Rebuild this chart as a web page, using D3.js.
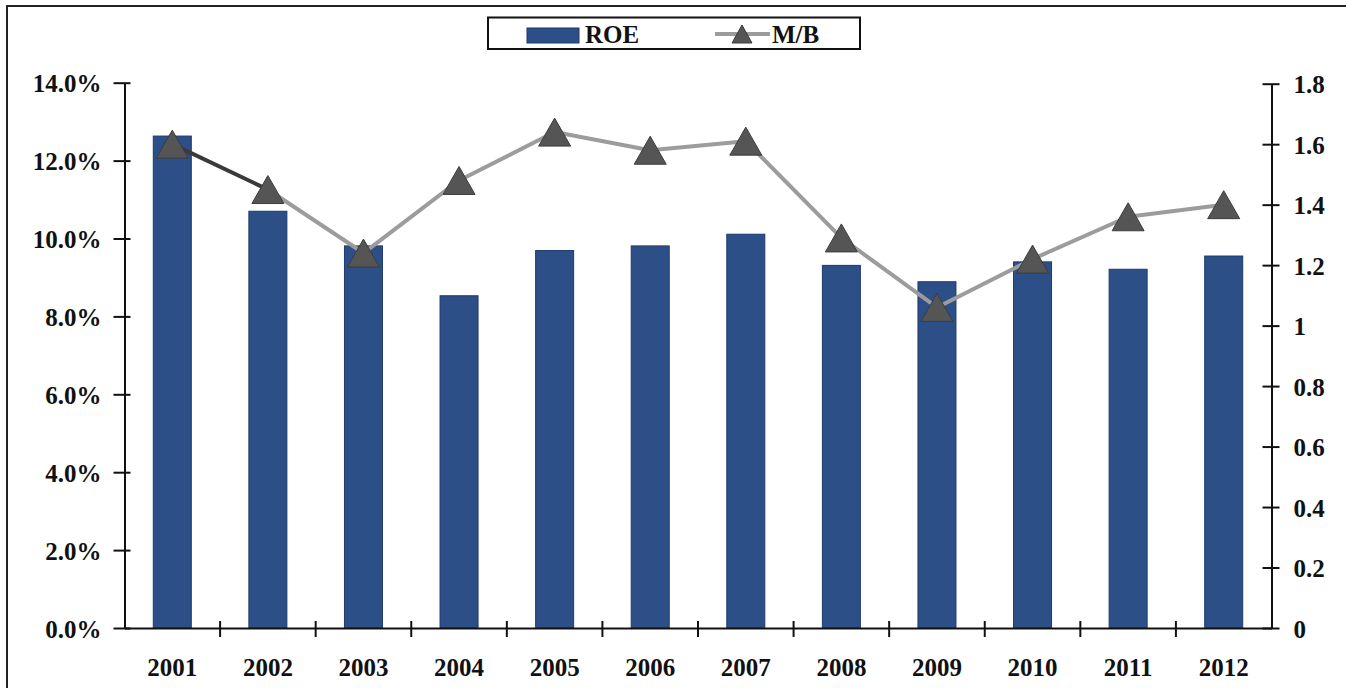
<!DOCTYPE html>
<html>
<head>
<meta charset="utf-8">
<script src="https://cdn.jsdelivr.net/npm/d3@7"></script>
<style>
  html, body { margin: 0; padding: 0; background: #fff; }
  svg { display: block; }
</style>
</head>
<body>
<script>
const years = ["2001","2002","2003","2004","2005","2006","2007","2008","2009","2010","2011","2012"];
const roe = [12.63, 10.70, 9.81, 8.53, 9.69, 9.81, 10.11, 9.31, 8.89, 9.40, 9.21, 9.55];
const mb = [1.60, 1.45, 1.24, 1.48, 1.64, 1.58, 1.61, 1.29, 1.06, 1.22, 1.36, 1.40];
const leftTicks = [0, 2, 4, 6, 8, 10, 12, 14];
const rightTicks = [0, 0.2, 0.4, 0.6, 0.8, 1, 1.2, 1.4, 1.6, 1.8];
const seriesNames = ["ROE", "M/B"];

const W = 1346, H = 688;
const FONT = "'Liberation Serif', 'Times New Roman', 'DejaVu Serif', serif";
const plot = { left: 124.5, right: 1271.5, top: 82.7, bottom: 628 };
const barColor = "#2d4f87", barEdge = "#1e3a6c";
const lineGray = "#9c9c9c", lineDark = "#3a3a3a", markerFill = "#555555", markerEdge = "#3c3c3c";

const svg = d3.select("body").append("svg").attr("width", W).attr("height", H);

// outer frame
svg.append("rect").attr("x", 7).attr("y", 6).attr("width", W + 20).attr("height", H + 20)
  .attr("fill", "none").attr("stroke", "#222").attr("stroke-width", 2);

const xb = d3.scaleBand().domain(years).range([plot.left, plot.right]);
const yL = d3.scaleLinear().domain([0, 14]).range([plot.bottom, plot.top]);
const yR = d3.scaleLinear().domain([0, 1.8]).range([plot.bottom, plot.top + 1]);

function styleText(sel) {
  sel.style("font-family", FONT).style("font-weight", "bold").style("font-size", "25px").attr("fill", "#111");
}

// bars
svg.append("g").selectAll("rect").data(years).join("rect")
  .attr("x", (d) => xb(d) + xb.bandwidth() / 2 - 19)
  .attr("width", 38)
  .attr("y", (d, i) => yL(roe[i]))
  .attr("height", (d, i) => plot.bottom - yL(roe[i]))
  .attr("fill", barColor).attr("stroke", barEdge).attr("stroke-width", 1);

// left axis
const gL = svg.append("g").attr("transform", `translate(${plot.left},0)`)
  .call(d3.axisLeft(yL).tickValues(leftTicks).tickFormat(d => d3.format(".1f")(d) + "%").tickSizeOuter(0).tickSizeInner(11).tickPadding(14));
gL.select(".domain").attr("stroke", "#111").attr("stroke-width", 2);
gL.selectAll(".tick line").attr("stroke", "#111").attr("stroke-width", 2).attr("x2", -11).attr("x1", 6);
gL.selectAll(".tick text").call(styleText).attr("dy", "0.36em").attr("x", -23);

// right axis
const gR = svg.append("g").attr("transform", `translate(${plot.right},0)`)
  .call(d3.axisRight(yR).tickValues(rightTicks).tickFormat(d3.format("~g")).tickSizeOuter(0).tickSizeInner(8).tickPadding(14));
gR.select(".domain").attr("stroke", "#111").attr("stroke-width", 2);
gR.selectAll(".tick line").attr("stroke", "#111").attr("stroke-width", 2).attr("x1", -9).attr("x2", 8);
gR.selectAll(".tick text").call(styleText).attr("dy", "0.36em").attr("x", 22);

// bottom axis
const gB = svg.append("g").attr("transform", `translate(0,${plot.bottom})`)
  .call(d3.axisBottom(xb).tickSize(0).tickPadding(30));
gB.select(".domain").attr("stroke", "#111").attr("stroke-width", 2);
gB.selectAll(".tick text").call(styleText);
// category boundary ticks
const bounds = years.slice(1).map(d => xb(d));
svg.append("g").selectAll("line").data(bounds).join("line")
  .attr("x1", d => d).attr("x2", d => d)
  .attr("y1", plot.bottom - 7).attr("y2", plot.bottom + 9)
  .attr("stroke", "#111").attr("stroke-width", 2);

// M/B line
const pts = years.map((d, i) => [xb(d) + xb.bandwidth() / 2, yR(mb[i])]);
const lineGen = d3.line();
svg.append("path").datum(pts.slice(1)).attr("d", lineGen)
  .attr("fill", "none").attr("stroke", lineGray).attr("stroke-width", 4).attr("stroke-linejoin", "round");
svg.append("path").datum(pts.slice(0, 2)).attr("d", lineGen)
  .attr("fill", "none").attr("stroke", lineDark).attr("stroke-width", 4);

const tri = (cx, cy, w, h) => `M${cx},${cy - h / 2}L${cx + w / 2},${cy + h / 2}L${cx - w / 2},${cy + h / 2}Z`;
svg.append("g").selectAll("path").data(pts).join("path")
  .attr("d", p => tri(p[0], p[1], 32, 28))
  .attr("fill", markerFill).attr("stroke", markerEdge).attr("stroke-width", 1);

// legend
const lg = svg.append("g");
lg.append("rect").attr("x", 488).attr("y", 17.5).attr("width", 372).attr("height", 31.5)
  .attr("fill", "#fff").attr("stroke", "#111").attr("stroke-width", 2);
lg.append("rect").attr("x", 527).attr("y", 28).attr("width", 52).attr("height", 15)
  .attr("fill", barColor).attr("stroke", barEdge);
lg.append("text").attr("x", 585).attr("y", 43).text(seriesNames[0]).call(styleText);
lg.append("line").attr("x1", 715).attr("x2", 770).attr("y1", 34).attr("y2", 34)
  .attr("stroke", lineGray).attr("stroke-width", 4);
lg.append("path").attr("d", tri(742, 34, 20, 18)).attr("fill", markerFill).attr("stroke", markerEdge);
lg.append("text").attr("x", 772).attr("y", 43).text(seriesNames[1]).call(styleText);
</script>
</body>
</html>
